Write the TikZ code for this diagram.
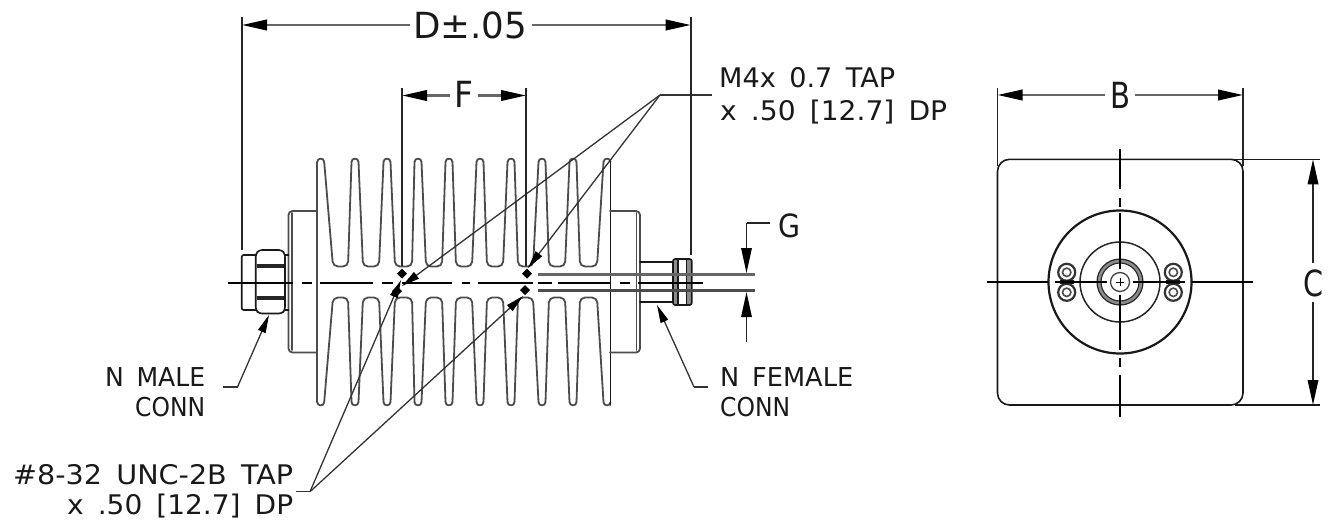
\documentclass[tikz,border=0pt]{standalone}
\usepackage{fontspec}
\usepackage{graphicx}
\setmainfont{DejaVu Sans}
\usetikzlibrary{arrows.meta}
\newcommand{\fitw}[3]{\resizebox{#1pt}{\height}{\fontsize{#2}{#2}\selectfont #3}}
\newcommand{\wsp}{\hspace{0.5em}}
\tikzset{
  outline/.style={line width=1.6pt,black!90,line cap=round,line join=round},
  finline/.style={line width=1.8pt,black!70,line cap=round,line join=round},
  dimh/.style={line width=2.2pt,black!60},
  dimv/.style={line width=1.7pt,black!85},
  leader/.style={line width=1.3pt,black!80},
  centre/.style={line width=2pt,black},
  ah/.style={-{Triangle[length=25pt,width=10.5pt,color=black]}},
  ahs/.style={-{Triangle[length=18pt,width=8pt,color=black]}},
  lbl/.style={inner sep=0pt,anchor=base west,text=black!90},
}
\begin{document}
\begin{tikzpicture}[x=1pt,y=-1pt]
\useasboundingbox (0,0) rectangle (1335,523);
% coordinates
\coordinate (dl) at (242,25); \coordinate (dr) at (690.7,25);
\coordinate (dlt) at (410,25); \coordinate (drt) at (532,25);
\coordinate (fl) at (402,95.5); \coordinate (fr) at (526,95.5);
\coordinate (flt) at (450,95.5); \coordinate (frt) at (478,95.5);
\coordinate (mk) at (660,95); \coordinate (mke) at (712,95);
\coordinate (uk) at (310,491.7); \coordinate (uke) at (296,491.7);
% fins
\foreach \a/\vl/\vr/\b in {320.7/333/348/355,355/363/379/387,387/395/412/418,418/426/442/449,449/456/472/480,480/487/503/511,511/518/533/542,542/549/565/573,573/580/597/607}{
  \draw[finline,rounded corners=5pt] (\a+3.5,162) -- (\vl,266.5) -- (\vr,266.5) -- (\b-3.5,162);
  \draw[finline,rounded corners=5pt] (\a+3.5,402) -- (\vl,297.5) -- (\vr,297.5) -- (\b-3.5,402);
}
\foreach \t in {355,387,418,449,480,511,542,573}{
  \draw[finline] (\t-3.5,162) .. controls (\t-3.5,157.5) and (\t+3.5,157.5) .. (\t+3.5,162);
  \draw[finline] (\t-3.5,402) .. controls (\t-3.5,406.5) and (\t+3.5,406.5) .. (\t+3.5,402);
}
\draw[finline] (317.2,162) .. controls (317.2,157.5) and (324.2,157.5) .. (324.2,162);
\draw[finline] (317.2,402) .. controls (317.2,406.5) and (324.2,406.5) .. (324.2,402);
\draw[finline] (603.5,162) .. controls (603.5,157.5) and (610.5,157.5) .. (610.5,162);
\draw[finline] (603.5,402) .. controls (603.5,406.5) and (610.5,406.5) .. (610.5,402);
\draw[finline] (317.2,162) -- (317.2,402);
\draw[outline] (610.5,160) -- (610.5,405);
% flanges
\draw[finline,rounded corners=4pt] (317,211) -- (288.5,211) -- (288.5,352.5) -- (317,352.5);
\draw[finline] (292,213) -- (292,350);
\draw[finline,rounded corners=4pt] (610,211) -- (640,211) -- (640,352.5) -- (610,352.5);
\draw[finline] (636.5,213) -- (636.5,350);
% male connector
\draw[outline,rounded corners=2pt] (255.7,255) -- (241.7,255) -- (241.7,310) -- (255.7,310);
\draw[outline,rounded corners=3pt] (255.7,254) -- (259,250) -- (282,250) -- (285,254) -- (285,310) -- (282,313.5) -- (259,313.5) -- (255.7,310) -- cycle;
\draw[outline] (285,255) -- (288.5,255) (285,310) -- (288.5,310);
\draw[line width=4pt,black!85] (257,266) -- (284,266) (257,298) -- (284,298);
% female connector
\draw[outline] (640,262) -- (673,262) (640,302) -- (673,302);
\fill[black!45,rounded corners=2pt] (673,259) rectangle (691.7,305);
\fill[white] (678,259.8) rectangle (686.6,304.2);
\draw[outline,rounded corners=2pt] (673,259) rectangle (691.7,305);
\draw[outline] (678,259) -- (678,305) (686.6,259) -- (686.6,305);
\draw[line width=3pt,black!60] (538,274) -- (755,274);
\draw[line width=2.6pt,black!70] (538,290.7) -- (755,290.7);
% centre line
\foreach \p/\q in {228/293,302/312,320/373,382/393,402/452,462/470,478/533,538/552,558/610,620/630,638/703}
  \draw[centre] (\p,282.5) -- (\q,282.5);
% tap diamonds
\foreach \x/\y in {402/273.5,527/273.5,525/290,397/291}
  \fill[black] (\x-5,\y) -- (\x,\y-5) -- (\x+5,\y) -- (\x,\y+5) -- cycle;
\coordinate (ta) at (402,286); \coordinate (tb) at (528,268);
\coordinate (tc) at (401,280); \coordinate (td) at (523,296);
% leaders
\draw[leader] (mke) -- (mk);
\draw[leader,ahs] (mk) -- (ta);
\draw[leader,ahs] (mk) -- (tb);
\draw[leader] (uke) -- (uk);
\draw[leader,ahs] (uk) -- (tc);
\draw[leader,ahs] (uk) -- (td);
% D dimension
\draw[dimv] (242,17) -- (242,250);
\draw[dimv] (690.7,17) -- (690.7,255);
\draw[dimh,ah] (dlt) -- (dl);
\draw[dimh,ah] (drt) -- (dr);
\node[lbl] (dtxt) at (413,38.5) {\fitw{114}{36}{D±.05}};
% F dimension
\draw[dimv] (402,88) -- (402,266);
\draw[dimv] (526,88) -- (526,266);
\draw[dimh,ah] (flt) -- (fl);
\draw[dimh,ah] (frt) -- (fr);
\node[lbl] (ftxt) at (454,107.5) {\fitw{19}{36}{F}};
% G dimension
\coordinate (gt) at (746.5,273); \coordinate (gb) at (746.5,292);
\coordinate (gc) at (746.5,223); \coordinate (ge) at (770,223); \coordinate (gs) at (746.5,342);
\draw[line width=1.5pt,black!85] (ge) -- (gc);
\draw[line width=1.5pt,black!85,ah] (gc) -- (gt);
\draw[line width=1.5pt,black!85,ah] (gs) -- (gb);
\node[lbl] (gtxt) at (778,237) {\fitw{22}{32}{G}};
% connector leaders
\coordinate (mt) at (269,315); \coordinate (mb) at (237.5,387); \coordinate (me) at (223,387);
\draw[leader] (me) -- (mb);
\draw[leader,ahs] (mb) -- (mt);
\coordinate (nt) at (657,305); \coordinate (nb) at (694,387); \coordinate (ne) at (708,387);
\draw[leader] (ne) -- (nb);
\draw[leader,ahs] (nb) -- (nt);
% labels
\node[lbl] (m1) at (719,87) {\fitw{176}{27}{M4x\wsp 0.7\wsp TAP}};
\node[lbl] (m2) at (720,120) {\fitw{227}{27}{x\wsp .50\wsp [12.7]\wsp DP}};
\node[lbl] (nm1) at (105,386.7) {\fitw{100}{26}{N\wsp MALE}};
\node[lbl] (nm2) at (135,416) {\fitw{70}{26}{CONN}};
\node[lbl] (nf1) at (720,386.7) {\fitw{133}{26}{N\wsp FEMALE}};
\node[lbl] (nf2) at (720,416) {\fitw{70}{26}{CONN}};
\node[lbl] (u1) at (13,484) {\fitw{280}{27}{\#8-32\wsp UNC-2B\wsp TAP}};
\node[lbl] (u2) at (67,514) {\fitw{226}{27}{x\wsp .50\wsp [12.7]\wsp DP}};
% end view
\draw[outline,rounded corners=12pt] (997.5,159.3) rectangle (1243,405);
\draw[dimv] (997.5,88) -- (997.5,166);
\draw[dimv] (1243,88) -- (1243,166);
\draw[line width=1.5pt,black!90] (1235,159.3) -- (1320,159.3) (1235,405) -- (1320,405);
\coordinate (bl) at (997.5,95); \coordinate (br) at (1243,95);
\coordinate (blt) at (1105,95); \coordinate (brt) at (1135,95);
\draw[dimh,ah] (blt) -- (bl);
\draw[dimh,ah] (brt) -- (br);
\node[lbl] (btxt) at (1110,108.5) {\fitw{20}{36}{B}};
\coordinate (ct) at (1313,159.3); \coordinate (cb) at (1313,405);
\coordinate (ctt) at (1313,263); \coordinate (cbt) at (1313,302);
\draw[dimv,ah] (ctt) -- (ct);
\draw[dimv,ah] (cbt) -- (cb);
\node[lbl] (ctxt) at (1303,296.5) {\fitw{20}{36}{C}};
% circles
\coordinate (o) at (1120,282);
\draw[line width=2.2pt,black!90] (o) circle (71.5);
\draw[line width=1.5pt,black!85] (o) circle (40);
\draw[line width=4pt,black!45] (o) circle (21);
\draw[line width=1.2pt,black!85] (o) circle (23);
\draw[line width=1.1pt,black!85] (o) circle (19);
\draw[line width=1.3pt,black!75] (o) circle (9.5);
\foreach \sx/\sy in {1066.7/272.3,1066.7/292.3,1173.3/272.3,1173.3/292.3}{
  \draw[line width=2.2pt,black!80] (\sx,\sy) circle (8.5);
  \draw[line width=1.6pt,black!70] (\sx,\sy) circle (4.2);
}
\draw[line width=3.5pt,black!90] (1060,282) -- (1074,282) (1166,282) -- (1180,282);
% centre lines of the end view
\foreach \p/\q in {149/189,198/207,213/269,295/350,358/367,375/417}
  \draw[centre] (1120,\p) -- (1120,\q);
\foreach \p/\q in {987/1048,1055/1107,1133/1185,1192/1253}
  \draw[centre] (\p,282) -- (\q,282);
\draw[line width=1pt,black] (1116,282) -- (1124,282) (1120,278) -- (1120,286);
\end{tikzpicture}
\end{document}
